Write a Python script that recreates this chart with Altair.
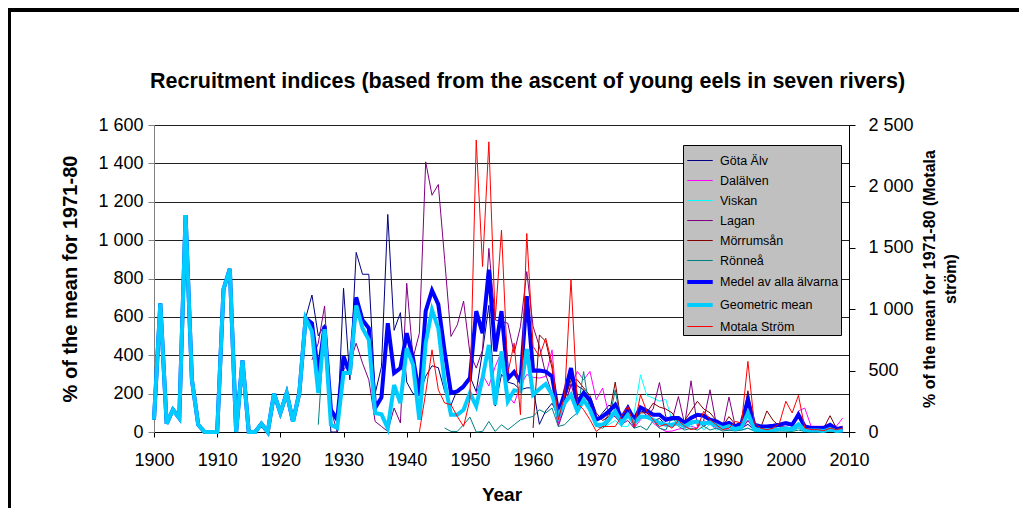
import altair as alt
import pandas as pd

FONT = "Liberation Sans"

SERIES = ["Göta Älv", "Dalälven", "Viskan", "Lagan", "Mörrumsån", "Rönneå",
          "Medel av alla älvarna", "Geometric mean", "Motala Ström"]
COLORS = ["#000080", "#FF00FF", "#00FFFF", "#800080", "#800000", "#008080",
          "#0000FF", "#00CCFF", "#FF0000"]
WIDTHS = [1, 1, 1, 1, 1, 1, 4, 4, 1]
THIN = SERIES[:6]

TITLE = "Recruitment indices (based from the ascent of young eels in seven rivers)"
X_TICKS = list(range(1900, 2011, 10))
LEFT_TICKS = list(range(0, 1601, 200))
RIGHT_TICKS = list(range(0, 2501, 500))

# 1900-1924: only Göta Älv exists, so the means equal it
EARLY = [64, 671, 43, 116, 73, 1130, 272, 38, 0, 0,
         0, 744, 850, 0, 373, 0, 0, 43, 0, 200,
         100, 203, 55, 203, 593]

GOTA_1925 = [714, 501, 560, 0, 0,
             749, 272, 936, 822, 822, 200, 340, 1134, 530, 622,
             260, 200, 190, 290, 345, 335, 212, 140, 220, 225,
             290, 210, 420, 660, 135, 300, 260, 250, 220, 230,
             230, 40, 110, 150, 80, 170, 290, 240, 220, 170,
             60, 100, 140, 120, 60, 100, 40, 110, 100, 60,
             70, 40, 30, 60, 30, 40, 60, 30, 50, 30,
             20, 30, 10, 20, 40, 10, 10, 10, 15, 10,
             15, 10, 20, 5, 5, 5, 5, 10, 5, 5]

DALALVEN_1951 = [200, 300, 240, 340, 420, 190, 150, 240, 300,
                 285, 281, 290, 428, 45, 140, 240, 316, 272, 316,
                 168, 229, 90, 81, 47, 90, 21, 64, 90, 47,
                 21, 3, 5, 15, 20, 30, 20, 60, 40, 20,
                 15, 10, 20, 10, 60, 10, 5, 10, 5, 15,
                 30, 40, 110, 125, 30, 30, 30, 35, 30, 73]

VISKAN_1971 = [20, 40, 60, 30, 29, 99, 298, 190, 177,
               160, 170, 60, 60, 20, 30, 60, 10, 40, 10,
               20, 5, 30, 10, 20, 5, 5, 10, 5, 10,
               5, 5, 20, 5, 5, 5, 3, 5, 5, 3]

LAGAN_1925 = [376, 463, 657, 116, 0,
              324, 359, 463, 359, 272, 55, 29, 3, 125, 47,
              775, 385, 515, 1408, 1234, 1290, 900, 498, 558, 682,
              411, 333, 428, 957, 584, 576, 567, 411, 550, 836,
              550, 446, 300, 200, 30, 130, 250, 130, 190, 150,
              40, 30, 100, 80, 40, 60, 20, 130, 80, 120,
              258, 80, 60, 185, 40, 267, 30, 60, 220, 40,
              20, 182, 30, 20, 60, 20, 10, 15, 10, 40,
              20, 10, 30, 15, 10, 5, 10, 20, 25, 20]

MORRUM_1960 = [21, 506, 472, 333, 64, 168, 269, 272, 230, 190,
               100, 60, 80, 260, 40, 140, 40, 100, 100, 150,
               130, 120, 100, 50, 60, 110, 160, 120, 100, 60,
               30, 80, 40, 30, 215, 30, 20, 110, 60, 30,
               20, 25, 30, 20, 20, 25, 20, 85, 20, 30]

RONNEA_1926 = [38, 550]
RONNEA_1946 = [21, 3, 3, 38,
               78, 0, 3, 55, 3, 38, 12, 38, 64, 73,
               81, 116, 99, 125, 29, 38, 73, 100, 315, 99,
               29, 20, 50, 220, 30, 130, 20, 30, 10, 60,
               20, 10, 80, 30, 10, 20, 10, 30, 10, 20,
               5, 10, 5, 10, 20, 5, 5, 3, 5, 5,
               5, 3, 10, 3, 3, 5, 3, 5, 3, 5]

MEDEL_1925 = [567, 307, 553, 116, 64,
              394, 307, 702, 584, 541, 125, 180, 567, 307, 333,
              515, 385, 190, 630, 738, 665, 420, 203, 212, 238,
              281, 630, 515, 846, 420, 630, 277, 313, 262, 708,
              320, 321, 315, 290, 99, 203, 333, 151, 203, 168,
              64, 81, 108, 142, 73, 125, 64, 128, 111, 90,
              90, 64, 73, 73, 47, 73, 90, 85, 64, 55,
              38, 47, 29, 47, 168, 38, 29, 29, 33, 38,
              47, 38, 90, 29, 21, 21, 21, 38, 16, 21]

GEOMEAN_1925 = [524, 203, 536, 38, 21,
                307, 307, 660, 541, 480, 99, 92, 20, 245, 151,
                437, 350, 64, 463, 636, 540, 260, 90, 90, 116,
                203, 134, 281, 454, 142, 420, 160, 217, 212, 432,
                194, 224, 250, 194, 81, 151, 194, 108, 168, 116,
                38, 38, 64, 108, 47, 90, 47, 81, 78, 64,
                47, 38, 38, 47, 29, 50, 55, 45, 50, 35,
                20, 30, 15, 25, 99, 15, 10, 10, 12, 15,
                20, 15, 40, 10, 8, 8, 5, 15, 5, 8]

# right axis (Motala Ström), 1942-2009
MOTALA_1942 = [0, 317, 669, 344, 236, 222, 127, 45,
               263, 2377, 1347, 2363, 913, 1645, 480, 723, 141, 1617,
               697, 616, 764, 561, 100, 303, 1244, 236, 181, 100,
               5, 45, 45, 45, 127, 209, 45, 303, 169, 100,
               45, 63, 31, 94, 47, 19, 31, 169, 100, 59,
               19, 31, 86, 73, 575, 73, 31, 19, 31, 73,
               250, 155, 298, 33, 19, 19, 11, 31, 19, 31]

left_rows = []
right_rows = []


def add(rows, name, start, values, seg=0):
    for i, v in enumerate(values):
        rows.append({"year": start + i, "value": v, "series": name,
                     "seg": f"{name}-{seg}"})


add(left_rows, "Göta Älv", 1900, EARLY + GOTA_1925)
add(left_rows, "Dalälven", 1951, DALALVEN_1951)
add(left_rows, "Viskan", 1971, VISKAN_1971)
add(left_rows, "Lagan", 1925, LAGAN_1925)
add(left_rows, "Mörrumsån", 1960, MORRUM_1960)
add(left_rows, "Rönneå", 1926, RONNEA_1926, 0)
add(left_rows, "Rönneå", 1946, RONNEA_1946, 1)
add(left_rows, "Medel av alla älvarna", 1900, EARLY + MEDEL_1925)
add(left_rows, "Geometric mean", 1900, EARLY + GEOMEAN_1925)
add(right_rows, "Motala Ström", 1942, MOTALA_1942)

df_left = pd.DataFrame(left_rows)
df_right = pd.DataFrame(right_rows)
df_one = pd.DataFrame({"title": [TITLE]})

PLOT_W = 695
PLOT_H = 307

label_expr = "replace(format(datum.value, ','), ',', ' ')"

color_scale = alt.Scale(domain=SERIES, range=COLORS)
width_scale = alt.Scale(type="ordinal", domain=SERIES, range=WIDTHS)
legend = alt.Legend(
    title=None, orient="none", legendX=529, legendY=20,
    fillColor="#C0C0C0", strokeColor="#000000", padding=2,
    symbolType="stroke", symbolSize=650, labelFont=FONT, labelFontSize=12.5,
    labelColor="#000000", labelOffset=5, rowPadding=0, labelLimit=300,
)

color_enc = alt.Color("series:N", scale=color_scale, legend=legend)
width_enc = alt.StrokeWidth("series:N", scale=width_scale, legend=legend)

x_axis = alt.Axis(values=X_TICKS, format="d", grid=False, labelFlush=False,
                  labelOverlap=False, tickSize=5, tickColor="#000000",
                  domainColor="#000000", labelFont=FONT, labelFontSize=18,
                  labelColor="#000000", labelPadding=14, title="Year",
                  titleFont=FONT, titleFontSize=19, titleFontWeight="bold",
                  titleColor="#000000", titleY=62, titleBaseline="middle")
x_enc = alt.X("year:Q",
              scale=alt.Scale(domain=[1900, 2010], nice=False, zero=False),
              axis=x_axis)

left_axis = alt.Axis(values=LEFT_TICKS, labelExpr=label_expr, grid=True,
                     gridColor="#202020", gridWidth=1, labelFlush=False,
                     labelOverlap=False, tickSize=6, tickColor="#808080",
                     domainColor="#808080", labelFont=FONT, labelFontSize=18,
                     labelColor="#000000", labelPadding=5,
                     title="% of the mean for 1971-80", titleFont=FONT,
                     titleFontSize=20, titleFontWeight="bold",
                     titleColor="#000000", titleX=-84, titleY=PLOT_H / 2,
                     titleAngle=270, titleAlign="center",
                     titleBaseline="middle")
y_left = alt.Y("value:Q", scale=alt.Scale(domain=[0, 1600], nice=False),
               axis=left_axis)

base_left = alt.Chart(df_left)

thin = base_left.transform_filter(
    alt.FieldOneOfPredicate(field="series", oneOf=THIN)
).mark_line().encode(
    x=x_enc, y=y_left, color=color_enc, strokeWidth=width_enc, detail="seg:N",
)

medel = base_left.transform_filter(
    alt.FieldEqualPredicate(field="series", equal="Medel av alla älvarna")
).mark_line().encode(
    x=x_enc, y=y_left, color=color_enc, strokeWidth=width_enc,
)

geo = base_left.transform_filter(
    alt.FieldEqualPredicate(field="series", equal="Geometric mean")
).mark_line().encode(
    x=x_enc, y=y_left, color=color_enc, strokeWidth=width_enc,
)

left = alt.layer(thin, medel, geo)

right = alt.Chart(df_right).mark_line().encode(
    x=x_enc,
    y=alt.Y(
        "value:Q",
        scale=alt.Scale(domain=[0, 2500], nice=False),
        axis=alt.Axis(orient="right", values=RIGHT_TICKS, labelExpr=label_expr,
                      grid=False, labelFlush=False, labelOverlap=False,
                      tickSize=6, tickColor="#000000", domainColor="#000000",
                      labelFont=FONT, labelFontSize=18, labelColor="#000000",
                      labelPadding=13,
                      title=["% of the mean for 1971-80 (Motala", "ström)"],
                      titleFont=FONT, titleFontSize=16, titleFontWeight="bold",
                      titleColor="#000000", titleX=72, titleY=PLOT_H / 2,
                      titleAngle=270, titleAlign="center", titleBaseline="top",
                      titleLineHeight=21),
    ),
    color=color_enc,
    strokeWidth=width_enc,
)

frame_top = alt.Chart(df_one).mark_rule(color="#000000", strokeWidth=4).encode(
    x=alt.value(-146), x2=alt.value(PLOT_W + 200), y=alt.value(-115))
frame_left = alt.Chart(df_one).mark_rule(color="#000000", strokeWidth=4).encode(
    x=alt.value(-145), y=alt.value(-117), y2=alt.value(PLOT_H + 120))
title_mark = alt.Chart(df_one).mark_text(
    font=FONT, fontSize=21.5, fontWeight="bold", color="#000000",
    align="center", baseline="middle",
).encode(x=alt.value(PLOT_W / 2 + 26), y=alt.value(-43), text="title:N")

chart = alt.layer(left, right, frame_top, frame_left, title_mark).resolve_scale(
    y="independent"
).properties(
    width=PLOT_W,
    height=PLOT_H,
    autosize=alt.AutoSizeParams(type="none"),
    padding={"left": 146, "top": 117, "right": 170, "bottom": 76},
    background="#FFFFFF",
).configure_view(stroke="#808080", strokeWidth=1)

chart.save("out.html", embed_options={"renderer": "svg", "actions": False})
